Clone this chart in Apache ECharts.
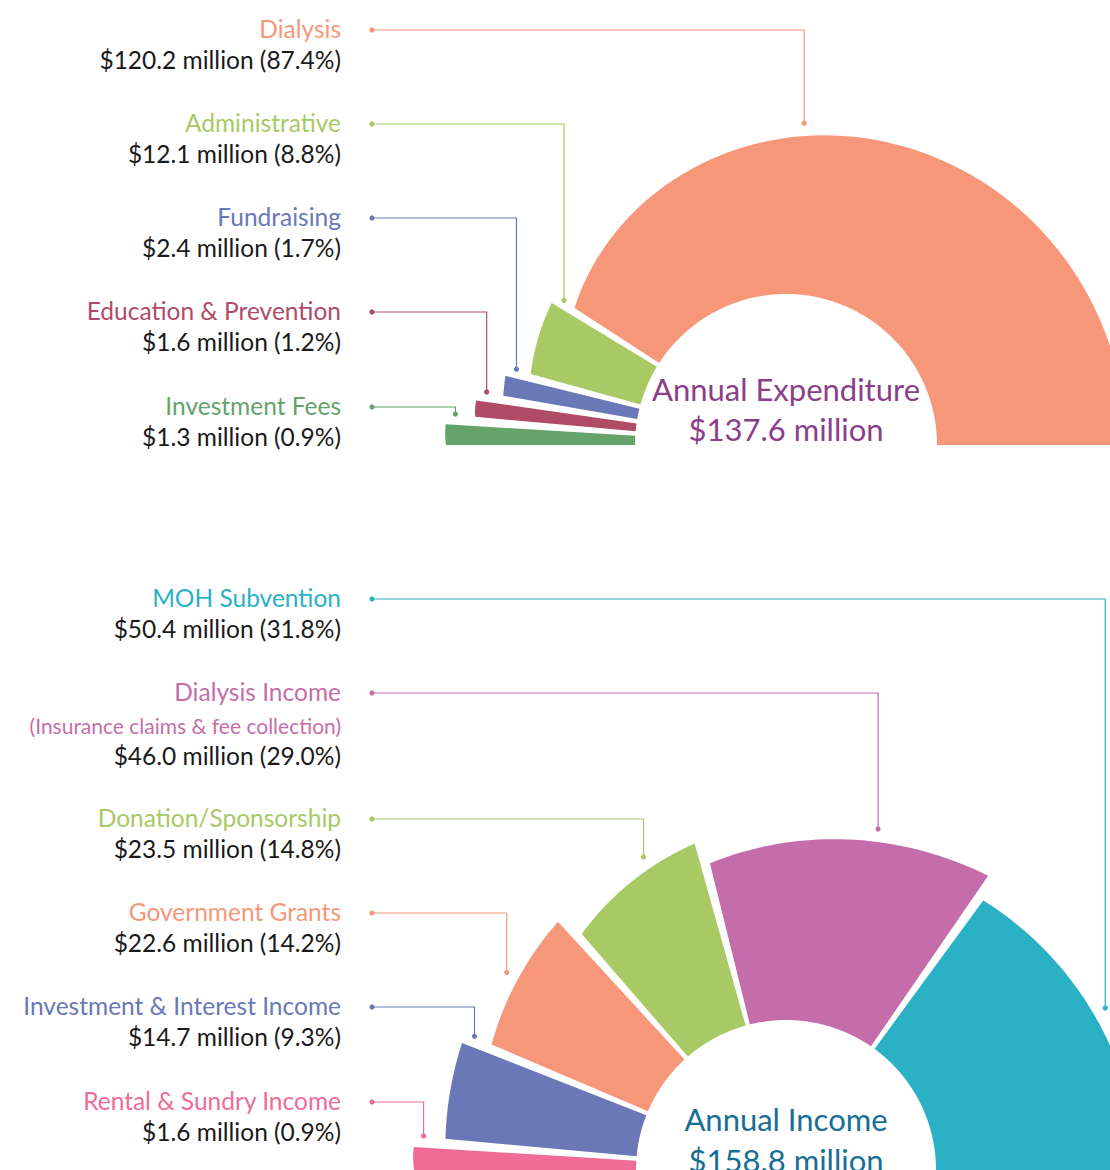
<!DOCTYPE html>
<html>
<head>
<meta charset="utf-8">
<title>Annual Expenditure and Income</title>
<script src="https://cdn.jsdelivr.net/npm/echarts@6/dist/echarts.min.js"></script>
<style>
  html, body { margin: 0; padding: 0; background: #fff; }
  #chart { width: 1110px; height: 1170px; }
</style>
</head>
<body>
<div id="chart"></div>
<script>
// ---- data ($ million) ----
const expNames = ['Dialysis', 'Administrative', 'Fundraising', 'Education & Prevention', 'Investment Fees']
const expValues = [120.2, 12.1, 2.4, 1.6, 1.3]
const expPercents = [87.4, 8.8, 1.7, 1.2, 0.9]

const incNames = ['MOH Subvention', 'Dialysis Income', 'Donation/Sponsorship', 'Government Grants',
  'Investment & Interest Income', 'Rental & Sundry Income']
const incNotes = ['', '(Insurance claims & fee collection)', '', '', '', '']
const incValues = [50.4, 46.0, 23.5, 22.6, 14.7, 1.6]
const incPercents = [31.8, 29.0, 14.8, 14.2, 9.3, 0.9]

// ---- styles and layout ----
const expColors = ['#F7977A', '#A8C964', '#6A78B8', '#B04B67', '#64A36A']
const incColors = ['#2BB1C6', '#C56DAA', '#A8C964', '#F7977A', '#6A78B8', '#F06B96']
const FONT = 'Lato, "Open Sans", sans-serif'
const TEXT_X = 341   // right edge of the label block
const LINE_X = 372   // left end of the leader lines
const PAD = 0.85     // half of the gap between slices, degrees
const EXTRA = 3      // degrees added to every slice so the thin ones stay visible

// outer radius of each slice at its left end, middle and right end (the slices lean)
const expOuter = [[252, 318, 340], [265, 270, 274], [287, 288, 289], [312, 313, 313], [340, 341, 341]]
const incOuter = [[334, 345, 354], [316, 336, 357], [312, 327, 339], [320, 329, 337], [342, 345, 348], [372, 373, 373]]
// where the leader line meets the slice: fraction along the slice, or null = its upper corner
const expAnchor = [0.41, null, null, null, null]
const incAnchor = [0.5, 0.6, 0.65, 0.5, null, null]
const expLabelY = [28, 122, 216, 310, 405]
const incLabelY = [597, 691, 817, 911, 1005, 1100]

const sum = arr => arr.reduce((a, b) => a + b, 0)

// angular span of every slice on a half ring, clockwise from the left end
// (items are listed top-down in the legend, the last one sits at the left end)
function halfRing (values) {
  const total = sum(values)
  const k = 180 / (180 + EXTRA * values.length)
  const spans = []
  let t = 0
  for (let i = values.length - 1; i >= 0; i--) {
    const w = (values[i] / total * 180 + EXTRA) * k
    spans[i] = [t, t + w]
    t += w
  }
  return spans
}

// quadratic through the three radii
const lean = (r, f) => r[0] * 2 * (f - 0.5) * (f - 1) - r[1] * 4 * f * (f - 1) + r[2] * 2 * f * (f - 0.5)

function text (x, y, str, color, size, align) {
  return {
    type: 'text', x: x, y: y,
    style: {
      text: str, fill: color, font: size + 'px ' + FONT,
      align: align, textAlign: align, verticalAlign: 'middle', textVerticalAlign: 'middle'
    }
  }
}

function ringRenderer (cfg) {
  return function (params, api) {
    const i = params.dataIndex
    const t0 = api.value(0)
    const t1 = api.value(1)
    const a0 = t0 > 0 ? t0 + PAD : t0
    const a1 = t1 < 180 ? t1 - PAD : t1
    const ro = cfg.outer[i]
    const N = 90
    const pts = []
    for (let n = 0; n <= N; n++) {
      const f = n / N
      pts.push(api.coord([lean(ro, f), a0 + (a1 - a0) * f]))
    }
    for (let n = N; n >= 0; n--) {
      pts.push(api.coord([cfg.inner, a0 + (a1 - a0) * n / N]))
    }

    const fa = cfg.anchor[i]
    const p = fa == null
      ? api.coord([ro[2] - 9, t1 + 1])
      : api.coord([lean(ro, fa) + 13, a0 + (a1 - a0) * fa])
    const color = cfg.colors[i]
    const y = cfg.labelY[i]
    const ly = y + 2

    const children = [
      { type: 'polygon', shape: { points: pts }, style: { fill: color } },
      {
        type: 'polyline',
        shape: { points: [[LINE_X, ly], [p[0], ly], [p[0], p[1]]] },
        style: { stroke: color, lineWidth: 1.2, fill: 'none' }
      },
      { type: 'circle', shape: { cx: LINE_X, cy: ly, r: 2.6 }, style: { fill: color } },
      { type: 'circle', shape: { cx: p[0], cy: p[1], r: 2.6 }, style: { fill: color } },
      text(TEXT_X, y, cfg.names[i], color, 24.5, 'right')
    ]
    let vy = y + 31
    if (cfg.notes && cfg.notes[i]) {
      children.push(text(TEXT_X, y + 34, cfg.notes[i], color, 21, 'right'))
      vy = y + 64
    }
    const valueText = '$' + cfg.values[i].toFixed(1) + ' million (' + cfg.percents[i].toFixed(1) + '%)'
    children.push(text(TEXT_X, vy, valueText, '#1a1a1a', 24.5, 'right'))
    return { type: 'group', children: children }
  }
}

const expSpans = halfRing(expValues)
const incSpans = halfRing(incValues)

const chart = echarts.init(document.getElementById('chart'), null, { renderer: 'svg' })

const option = {
  animation: false,
  backgroundColor: '#ffffff',
  polar: [
    { center: [786, 445], radius: 400 },
    { center: [786, 1170], radius: 400 }
  ],
  angleAxis: [
    { polarIndex: 0, type: 'value', min: 0, max: 360, startAngle: 180, clockwise: true, show: false },
    { polarIndex: 1, type: 'value', min: 0, max: 360, startAngle: 180, clockwise: true, show: false }
  ],
  radiusAxis: [
    { polarIndex: 0, type: 'value', min: 0, max: 400, show: false },
    { polarIndex: 1, type: 'value', min: 0, max: 400, show: false }
  ],
  series: [
    {
      name: 'Annual Expenditure',
      type: 'custom',
      coordinateSystem: 'polar',
      polarIndex: 0,
      silent: true,
      data: expSpans,
      renderItem: ringRenderer({
        inner: 151, outer: expOuter, anchor: expAnchor, labelY: expLabelY,
        colors: expColors, names: expNames, values: expValues, percents: expPercents
      })
    },
    {
      name: 'Annual Income',
      type: 'custom',
      coordinateSystem: 'polar',
      polarIndex: 1,
      silent: true,
      data: incSpans,
      renderItem: ringRenderer({
        inner: 150, outer: incOuter, anchor: incAnchor, labelY: incLabelY,
        colors: incColors, names: incNames, notes: incNotes, values: incValues, percents: incPercents
      })
    }
  ],
  graphic: [
    text(786, 389, 'Annual Expenditure', '#8B3E8A', 31, 'center'),
    text(786, 429, '$' + sum(expValues).toFixed(1) + ' million', '#8B3E8A', 31, 'center'),
    text(786, 1119, 'Annual Income', '#166E96', 31, 'center'),
    text(786, 1160, '$' + sum(incValues).toFixed(1) + ' million', '#166E96', 31, 'center')
  ]
}

chart.setOption(option)
</script>
</body>
</html>
